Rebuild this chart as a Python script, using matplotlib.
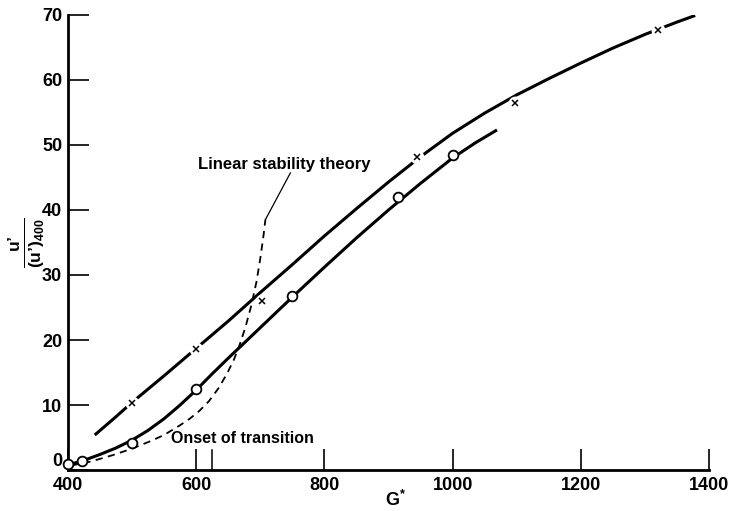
import matplotlib
matplotlib.use("Agg")
import matplotlib.pyplot as plt

plt.rcParams['font.family'] = ['Liberation Sans', 'DejaVu Sans']
plt.rcParams['mathtext.fontset'] = 'custom'
plt.rcParams['mathtext.rm'] = 'Liberation Sans:bold'
plt.rcParams['mathtext.it'] = 'Liberation Sans:bold'

# Кривая для крестиков (верхняя)
upper_g = [442, 475, 500, 550, 600, 650, 700, 750, 800, 850, 900, 950, 1000,
           1050, 1100, 1150, 1200, 1250, 1300, 1350, 1378]
upper_u = [5.4, 8.2, 10.4, 14.5, 18.7, 22.9, 27.3, 31.6, 36.0, 40.2, 44.3, 48.2, 51.8,
           54.9, 57.7, 60.2, 62.6, 64.9, 67.0, 68.9, 69.9]

# Кривая для кружков (нижняя)
lower_g = [400, 425, 450, 475, 500, 525, 550, 575, 600, 625, 650, 700, 750, 800,
           850, 900, 950, 1000, 1035, 1069]
lower_u = [0.8, 1.5, 2.4, 3.4, 4.6, 6.1, 7.9, 10.0, 12.3, 14.8, 17.2, 21.9, 26.6, 31.2,
           35.7, 40.0, 44.1, 48.0, 50.3, 52.3]

# Линейная теория устойчивости (пунктир)
lin_g = [405, 435, 470, 500, 530, 550, 575, 590, 605, 620, 635, 648, 659, 668, 677, 686,
         694, 700, 705, 708]
lin_u = [0.7, 1.3, 2.3, 3.3, 4.5, 5.4, 6.9, 7.9, 9.1, 10.6, 12.6, 14.8, 17.0, 19.3, 22.0, 25.3,
         28.9, 32.5, 36.0, 38.5]

# Точки
cross_g = [500, 600, 703, 944, 1097, 1320]
cross_u = [10.3, 18.6, 26.0, 48.2, 56.4, 67.6]
circ_g = [400, 422, 500, 600, 750, 915, 1000]
circ_u = [0.9, 1.4, 4.2, 12.5, 26.8, 42.0, 48.5]

onset_g = 625

xticks = [400, 600, 800, 1000, 1200, 1400]
yticks = [0, 10, 20, 30, 40, 50, 60, 70]

fig = plt.figure(figsize=(7.29, 5.11), dpi=100)
ax = fig.add_axes([0.093, 0.080, 0.880, 0.891])

ax.plot(upper_g, upper_u, color='black', lw=2.2, solid_capstyle='butt')
ax.plot(lower_g, lower_u, color='black', lw=2.2, solid_capstyle='butt')
ax.plot(lin_g, lin_u, color='black', lw=1.3, linestyle=(0, (4, 3)))

# выноска к подписи
ax.plot([lin_g[-1], 747], [lin_u[-1], 45.7], color='black', lw=0.9)

# разрывы линии вокруг крестиков
ax.plot(cross_g, cross_u, linestyle='none', marker='o', markersize=9,
        markerfacecolor='white', markeredgecolor='white', zorder=3)
ax.plot(cross_g, cross_u, linestyle='none', marker='x', markersize=5,
        color='black', markeredgewidth=1.1, zorder=4)
ax.plot(circ_g, circ_u, linestyle='none', marker='o', markersize=7,
        markerfacecolor='white', markeredgecolor='black', markeredgewidth=1.3,
        zorder=4, clip_on=False)

ax.text(737, 45.8, 'Linear stability theory', ha='center', va='bottom',
        fontsize=12, fontweight='bold')
ax.text(673, 4.9, 'Onset of transition', ha='center', va='center',
        fontsize=11.5, fontweight='bold')
ax.plot([onset_g, onset_g], [0, 3.1], color='black', lw=1.1)

ax.set_xlim(400, 1400)
ax.set_ylim(0, 70)
ax.set_xticks(xticks)
ax.set_yticks(yticks)
ax.tick_params(direction='in', length=15, width=1.2, labelsize=13)
ax.tick_params(axis='x', pad=5)
ax.tick_params(axis='y', pad=4)
for lab in ax.get_xticklabels() + ax.get_yticklabels():
    lab.set_fontweight('bold')
ax.get_yticklabels()[0].set_va('bottom')
for s in ['top', 'right']:
    ax.spines[s].set_visible(False)
for s in ['left', 'bottom']:
    ax.spines[s].set_linewidth(2)

fig.text(0.542, 0.021, 'G$^{*}$', ha='center', va='center', fontsize=13, fontweight='bold')
fig.text(0.037, 0.524, r"$\frac{\mathrm{u’}}{\mathrm{(u’)}_{400}}$", ha='center', va='center',
         rotation=90, fontsize=18)

fig.savefig('out.png', dpi=100)
